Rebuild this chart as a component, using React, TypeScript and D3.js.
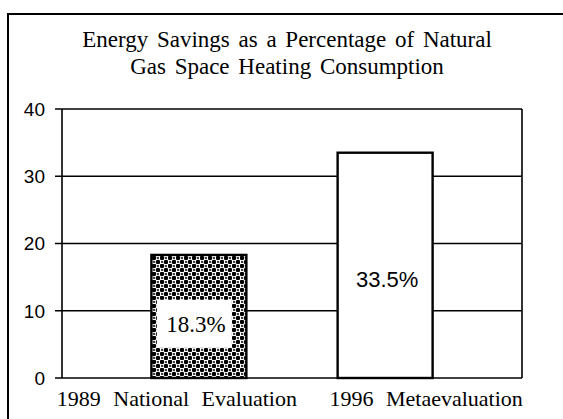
import React, { useEffect, useRef } from 'react'
import * as d3 from 'd3'

// chart data
const categories = ['1989 National Evaluation', '1996 Metaevaluation']
const savings = [18.3, 33.5]
const valueLabels = ['18.3%', '33.5%']
const yTicks = [0, 10, 20, 30, 40]
const titleLines = ['Energy Savings as a Percentage of Natural', 'Gas Space Heating Consumption']

const W = 563
const H = 419
const plot = { left: 62, right: 522, top: 109, bottom: 378 }

export default function App() {
    const ref = useRef<SVGSVGElement | null>(null)

    useEffect(() => {
        const svg = d3.select(ref.current)
        svg.selectAll('*').remove()

        const x = d3.scaleBand<string>()
            .domain(categories)
            .range([plot.left, plot.right])
            .paddingInner(0.49)
            .paddingOuter(0.48)
        const y = d3.scaleLinear().domain([0, 40]).range([plot.bottom, plot.top])

        // dotted cross-hatch fill of the first bar
        const defs = svg.append('defs')
        const pat = defs.append('pattern')
            .attr('id', 'dots')
            .attr('width', 8).attr('height', 8)
            .attr('patternUnits', 'userSpaceOnUse')
        pat.append('rect').attr('width', 8).attr('height', 8).attr('fill', 'white')
        ;[[2, 2, 2.3], [6, 6, 2.3], [6, 2, 1], [2, 6, 1]].forEach(([cx, cy, r]) => {
            pat.append('circle').attr('cx', cx).attr('cy', cy).attr('r', r).attr('fill', 'black')
        })

        // outer frame (right and bottom run off the page)
        svg.append('rect')
            .attr('x', 8).attr('y', 14)
            .attr('width', W).attr('height', H)
            .attr('fill', 'white').attr('stroke', 'black').attr('stroke-width', 2)

        // title
        svg.append('g').selectAll('text')
            .data(titleLines)
            .enter().append('text')
            .attr('x', 287)
            .attr('y', (d, i) => 47 + i * 27)
            .attr('text-anchor', 'middle')
            .attr('font-family', 'Liberation Serif, serif')
            .attr('font-size', 23)
            .style('word-spacing', '3px')
            .text(d => d)

        // gridlines + ticks
        const grid = svg.append('g')
        grid.selectAll('line.grid')
            .data(yTicks)
            .enter().append('line')
            .attr('class', 'grid')
            .attr('x1', plot.left - 7).attr('x2', plot.right)
            .attr('y1', d => y(d)).attr('y2', d => y(d))
            .attr('stroke', 'black').attr('stroke-width', 1.6)
        grid.selectAll('text')
            .data(yTicks)
            .enter().append('text')
            .attr('x', 45)
            .attr('y', d => y(d))
            .attr('dy', '0.36em')
            .attr('text-anchor', 'end')
            .attr('font-family', 'Liberation Sans, sans-serif')
            .attr('font-size', 19)
            .text(d => d)
        ;[plot.left, plot.right].forEach(px => {
            grid.append('line')
                .attr('x1', px).attr('x2', px)
                .attr('y1', plot.top).attr('y2', plot.bottom)
                .attr('stroke', 'black').attr('stroke-width', 1.6)
        })

        // bars
        svg.append('g').selectAll('rect')
            .data(savings)
            .enter().append('rect')
            .attr('x', (d, i) => x(categories[i])!)
            .attr('y', d => y(d))
            .attr('width', x.bandwidth())
            .attr('height', d => y(0) - y(d))
            .attr('fill', (d, i) => i === 0 ? 'url(#dots)' : 'white')
            .attr('stroke', 'black')
            .attr('stroke-width', 2.4)

        // white box behind the first label
        const cx0 = x(categories[0])! + x.bandwidth() / 2
        svg.append('rect')
            .attr('x', cx0 - 42).attr('y', y(savings[0] * 0.44) - 24)
            .attr('width', 75).attr('height', 48)
            .attr('fill', 'white')

        // value labels
        svg.append('g').selectAll('text')
            .data(savings)
            .enter().append('text')
            .attr('x', (d, i) => x(categories[i])! + x.bandwidth() / 2 - (i === 0 ? 3 : -2))
            .attr('y', d => y(d * 0.44))
            .attr('dy', '0.35em')
            .attr('text-anchor', 'middle')
            .attr('font-family', (d, i) => i === 0 ? 'Liberation Serif, serif' : 'Liberation Sans, sans-serif')
            .attr('font-size', (d, i) => i === 0 ? 23 : 22)
            .text((d, i) => valueLabels[i])

        // category labels, spread wide like the original
        const labelShift = [-22, 41]
        svg.append('g').selectAll('text')
            .data(categories)
            .enter().append('text')
            .attr('x', (d, i) => x(d)! + x.bandwidth() / 2 + labelShift[i])
            .attr('y', 406)
            .attr('text-anchor', 'middle')
            .attr('font-family', 'Liberation Serif, serif')
            .attr('font-size', 22)
            .style('word-spacing', '7px')
            .text(d => d)
    }, [])

    return (
        <svg
            ref={ref}
            width={W}
            height={H}
            style={{ position: 'absolute', left: 0, top: 0, background: 'white' }}
        />
    )
}
